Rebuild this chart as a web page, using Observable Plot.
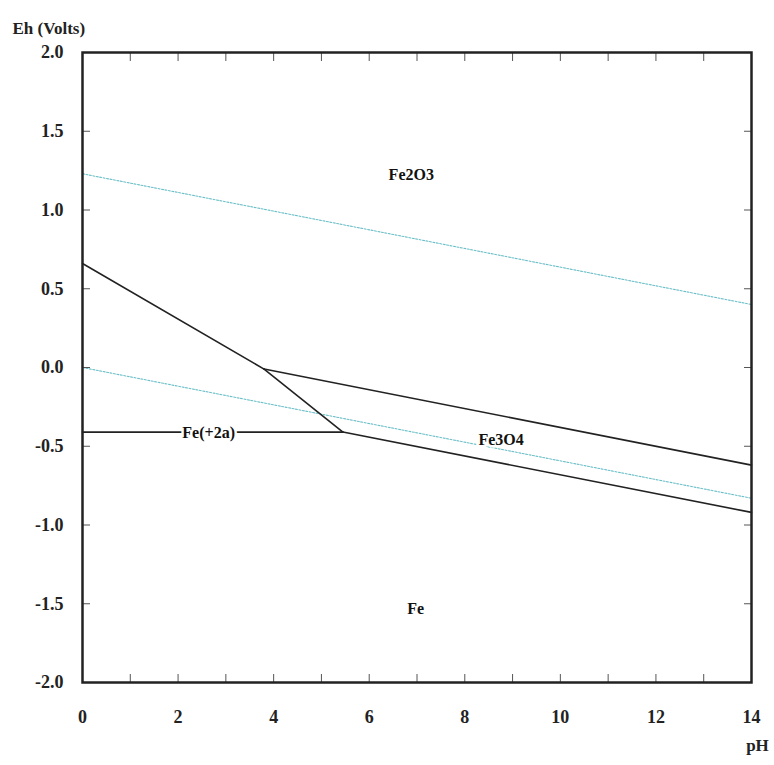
<!DOCTYPE html>
<html>
<head>
<meta charset="utf-8">
<script src="https://cdn.jsdelivr.net/npm/d3@7"></script>
<script src="https://cdn.jsdelivr.net/npm/@observablehq/plot@0.6"></script>
<style>
  html, body { margin: 0; padding: 0; background: #fff; }
</style>
</head>
<body>
<div id="chart"></div>
<script>
// Boundary lines of the Fe–H2O Pourbaix diagram, [pH, Eh]
const fe2o3_fe2 = [[0, 0.66], [3.8, -0.01]];
const fe3o4_fe2 = [[3.8, -0.01], [5.45, -0.41]];
const fe2_fe = [[0, -0.41], [5.45, -0.41]];
const fe2o3_fe3o4 = [[3.8, -0.01], [14, -0.62]];
const fe3o4_fe = [[5.45, -0.41], [14, -0.92]];
// Water stability limits (dotted)
const o2_h2o = [[0, 1.23], [14, 0.40]];
const h2o_h2 = [[0, 0.0], [14, -0.83]];
// Region labels
const labelNames = ["Fe2O3", "Fe3O4", "Fe(+2a)", "Fe"];
const labelPH = [6.88, 8.76, 2.64, 6.97];
const labelEh = [1.22, -0.46, -0.415, -1.53];
// Ticks
const xTicks = [0,1,2,3,4,5,6,7,8,9,10,11,12,13,14];
const yTicks = [-2.0, -1.5, -1.0, -0.5, 0.0, 0.5, 1.0, 1.5, 2.0];

const solid = [fe2o3_fe2, fe3o4_fe2, fe2_fe, fe2o3_fe3o4, fe3o4_fe];
const dotted = [o2_h2o, h2o_h2];
const labels = labelNames.map((n, i) => ({name: n, pH: labelPH[i], Eh: labelEh[i]}));

const font = "'Liberation Serif', 'Times New Roman', serif";

const chart = Plot.plot({
  width: 774,
  height: 765,
  marginLeft: 82,
  marginRight: 23,
  marginTop: 52,
  marginBottom: 83,
  style: {fontFamily: font, fontWeight: "bold", fontSize: "18px", color: "#222", background: "#fff"},
  x: {domain: [0, 14], label: null},
  y: {domain: [-2, 2], label: null},
  marks: [
    ...dotted.map(seg => Plot.line(seg, {x: d => d[0], y: d => d[1], stroke: "#6cbfc8", strokeWidth: 1.1, strokeDasharray: "2,1.5"})),
    ...solid.map(seg => Plot.line(seg, {x: d => d[0], y: d => d[1], stroke: "#222", strokeWidth: 1.6})),
    Plot.text(labels, {x: "pH", y: "Eh", text: "name", fontSize: 16, fill: "#111", stroke: "white", strokeWidth: 5, fontFamily: font, fontWeight: "bold"}),
    // inward ticks on all four sides
    Plot.axisX(xTicks, {anchor: "bottom", tickSize: -8, tickFormat: () => "", stroke: "#555"}),
    Plot.axisX(xTicks, {anchor: "top", tickSize: -8, tickFormat: () => "", stroke: "#555"}),
    Plot.axisY(yTicks, {anchor: "left", tickSize: -8, tickFormat: () => "", stroke: "#555"}),
    Plot.axisY(yTicks, {anchor: "right", tickSize: -8, tickFormat: () => "", stroke: "#555"}),
    // tick labels
    Plot.axisX(xTicks, {anchor: "bottom", tickSize: 0, tickPadding: 28, tickFormat: d => d % 2 ? "" : String(d), fontSize: 18}),
    Plot.axisY(yTicks, {anchor: "left", tickSize: 0, tickPadding: 19, tickFormat: d => d.toFixed(1), fontSize: 18}),
    Plot.frame({stroke: "#222", strokeWidth: 2.5}),
    // axis titles
    Plot.text(["Eh (Volts)"], {frameAnchor: "top-left", dx: -70, dy: -31, textAnchor: "start", fontSize: 17, fill: "#222"}),
    Plot.text(["pH"], {frameAnchor: "bottom-right", dx: 6, dy: 68, textAnchor: "middle", fontSize: 17, fill: "#222"})
  ]
});
document.getElementById("chart").appendChild(chart);
</script>
</body>
</html>
